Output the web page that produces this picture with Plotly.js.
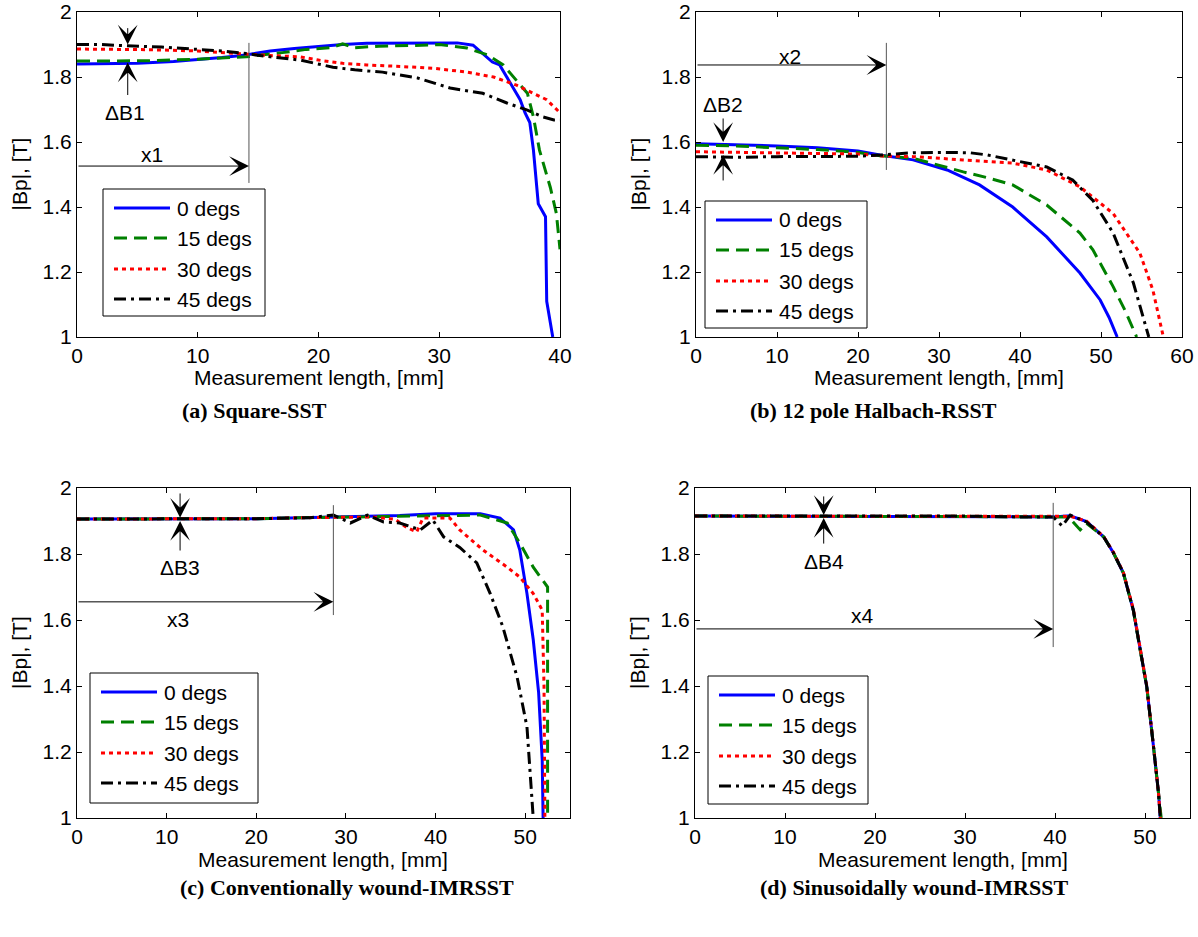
<!DOCTYPE html>
<html>
<head>
<meta charset="utf-8">
<script src="https://cdn.plot.ly/plotly-3.0.1.min.js"></script>
<style>html,body{margin:0;padding:0;background:#fff;}#chart{width:1198px;height:937px;}</style>
</head>
<body>
<div id="chart"></div>
<script>
// ---------- DATA ----------
const seriesNames = ["0 degs", "15 degs", "30 degs", "45 degs"];
const panelTitles = ["(a) Square-SST", "(b) 12 pole Halbach-RSST", "(c) Conventionally wound-IMRSST", "(d) Sinusoidally wound-IMRSST"];
const xTitle = "Measurement length, [mm]";
const yTitle = "|Bp|, [T]";
const yTickVals = [1, 1.2, 1.4, 1.6, 1.8, 2];

// (a) Square-SST
const a0x = [0, 3, 5, 8, 10, 12, 14, 16, 18, 20, 22, 24, 26, 28, 30, 31.5, 32.8, 33.9, 34.4, 35.0, 35.9, 36.7, 37.1, 37.5, 37.8, 38.2, 38.8, 38.9, 39.4];
const a0y = [1.840, 1.840, 1.842, 1.848, 1.853, 1.860, 1.868, 1.880, 1.888, 1.895, 1.900, 1.904, 1.904, 1.905, 1.905, 1.905, 1.898, 1.862, 1.846, 1.837, 1.780, 1.730, 1.690, 1.660, 1.575, 1.410, 1.370, 1.110, 1.000];
const a15x = [0, 3, 6, 10, 14, 17, 19, 21, 22, 23, 25, 28, 30, 32.3, 34, 35.3, 36.4, 37.3, 37.8, 38.3, 39.2, 39.7, 40];
const a15y = [1.849, 1.849, 1.850, 1.855, 1.862, 1.875, 1.885, 1.890, 1.902, 1.890, 1.895, 1.897, 1.900, 1.889, 1.868, 1.837, 1.790, 1.750, 1.677, 1.575, 1.460, 1.380, 1.270];
const a30x = [0, 3, 6, 10, 14, 16, 18.5, 20, 22, 24, 27, 29.5, 32.3, 34.5, 36.4, 37.8, 38.9, 40];
const a30y = [1.886, 1.885, 1.884, 1.880, 1.870, 1.866, 1.862, 1.852, 1.842, 1.837, 1.832, 1.827, 1.815, 1.800, 1.775, 1.750, 1.730, 1.690];
const a45x = [0, 2, 4, 7, 10, 12, 14, 16, 18.5, 21.2, 23, 25.3, 28.2, 30.9, 33.6, 35.6, 37.3, 38.6, 39.5, 40];
const a45y = [1.900, 1.900, 1.896, 1.892, 1.885, 1.880, 1.872, 1.862, 1.852, 1.830, 1.822, 1.815, 1.797, 1.766, 1.750, 1.720, 1.698, 1.677, 1.668, 1.668];

// (b) 12 pole Halbach-RSST
const b0x = [0, 5, 10, 15, 20, 22.7, 26.8, 31, 35, 39.1, 43.3, 47.4, 49.9, 51, 52];
const b0y = [1.595, 1.592, 1.588, 1.582, 1.572, 1.560, 1.545, 1.514, 1.468, 1.400, 1.308, 1.197, 1.114, 1.060, 1.000];
const b15x = [0, 5, 10, 15, 20, 22.7, 26.8, 31, 33, 36, 39.1, 43.3, 47.4, 49, 51.5, 53, 54.4];
const b15y = [1.590, 1.588, 1.582, 1.577, 1.568, 1.558, 1.550, 1.520, 1.508, 1.490, 1.468, 1.406, 1.320, 1.268, 1.155, 1.080, 1.000];
const b30x = [0, 5, 10, 15, 20, 23, 26.8, 33, 39.1, 43.3, 47.4, 51.5, 54.8, 56.4, 57.7];
const b30y = [1.570, 1.568, 1.567, 1.565, 1.563, 1.557, 1.555, 1.545, 1.535, 1.514, 1.462, 1.380, 1.258, 1.145, 1.000];
const b45x = [0, 5, 10, 15, 20, 23, 26.8, 30, 33.8, 36, 39.1, 43.3, 46.5, 49, 51.5, 54, 55.9];
const b45y = [1.555, 1.553, 1.555, 1.556, 1.556, 1.560, 1.567, 1.568, 1.567, 1.560, 1.545, 1.523, 1.483, 1.420, 1.320, 1.166, 1.000];

// (c) Conventionally wound-IMRSST
const c0x = [0, 10, 20, 25, 30, 32, 36, 40, 45, 47.2, 48.7, 49.4, 50.2, 50.9, 51.5, 51.9, 52];
const c0y = [1.906, 1.906, 1.907, 1.910, 1.913, 1.916, 1.917, 1.922, 1.922, 1.909, 1.873, 1.812, 1.680, 1.540, 1.380, 1.176, 1.000];
const c15x = [0, 10, 20, 25, 30, 35, 40, 45, 48, 49.4, 50.9, 52.5, 52.5];
const c15y = [1.906, 1.906, 1.907, 1.910, 1.912, 1.915, 1.918, 1.918, 1.894, 1.833, 1.760, 1.700, 1.000];
const c30x = [0, 10, 20, 25, 30, 33, 35.5, 36.8, 37.9, 38.6, 41.6, 42.7, 45.3, 48, 49.4, 50.9, 51.9, 52.1, 52.2];
const c30y = [1.906, 1.906, 1.907, 1.910, 1.912, 1.912, 1.905, 1.880, 1.867, 1.909, 1.909, 1.873, 1.812, 1.760, 1.730, 1.680, 1.630, 1.400, 1.000];
const c45x = [0, 10, 20, 26, 28.6, 30.5, 32.4, 34.2, 36, 38.3, 39.7, 40.9, 42.7, 44.6, 46.1, 47.5, 49.1, 50.2, 50.9];
const c45y = [1.906, 1.906, 1.907, 1.910, 1.918, 1.894, 1.918, 1.897, 1.894, 1.873, 1.903, 1.852, 1.820, 1.773, 1.680, 1.580, 1.427, 1.276, 1.000];

// (d) Sinusoidally wound-IMRSST
const d0x = [0, 10, 20, 30, 36.5, 39.8, 41.7, 43.5, 45.4, 46.5, 47.6, 48.7, 49.4, 50.2, 50.9, 51.5, 51.7];
const d0y = [1.915, 1.915, 1.915, 1.915, 1.913, 1.912, 1.916, 1.898, 1.852, 1.803, 1.742, 1.630, 1.518, 1.397, 1.227, 1.076, 1.000];
const d15x = [0, 10, 20, 30, 36.5, 39.8, 41.5, 42.8, 43.5, 45.4, 46.5, 47.6, 48.7, 49.4, 50.2, 50.9, 51.5, 51.8];
const d15y = [1.915, 1.915, 1.915, 1.915, 1.913, 1.912, 1.912, 1.873, 1.893, 1.852, 1.803, 1.742, 1.630, 1.518, 1.397, 1.227, 1.076, 1.000];
const d30x = [0, 10, 20, 30, 36.5, 39.8, 41.7, 43.5, 45.4, 46.5, 47.6, 48.7, 49.4, 50.2, 50.9, 51.5, 51.7];
const d30y = [1.915, 1.915, 1.915, 1.915, 1.913, 1.913, 1.914, 1.900, 1.853, 1.805, 1.744, 1.634, 1.520, 1.400, 1.228, 1.077, 1.000];
const d45x = [0, 10, 20, 30, 36.5, 39.8, 40.8, 41.7, 43.5, 45.4, 46.5, 47.6, 48.7, 49.4, 50.2, 50.9, 51.5, 51.7];
const d45y = [1.915, 1.915, 1.915, 1.915, 1.912, 1.912, 1.885, 1.918, 1.897, 1.852, 1.803, 1.742, 1.630, 1.518, 1.397, 1.227, 1.076, 1.000];

// ---------- STYLE / LAYOUT ----------
const W = 1198, H = 937;
const PX = v => v / W, PY = v => 1 - v / H;
const styles = [
  {color: "#0000ff", width: 3, dash: "solid"},
  {color: "#008000", width: 3, dash: "13px,7px"},
  {color: "#ff0000", width: 3, dash: "4px,4px"},
  {color: "#000000", width: 3, dash: "12px,5px,3px,5px"}
];
const panelData = [
  [[a0x, a0y], [a15x, a15y], [a30x, a30y], [a45x, a45y]],
  [[b0x, b0y], [b15x, b15y], [b30x, b30y], [b45x, b45y]],
  [[c0x, c0y], [c15x, c15y], [c30x, c30y], [c45x, c45y]],
  [[d0x, d0y], [d15x, d15y], [d30x, d30y], [d45x, d45y]]
];
const panels = [
  {xd: [77, 560], yd: [12, 337], xr: [0, 40], legend: [103, 189, 162, 127], cap: [180, 410]},
  {xd: [696, 1182], yd: [12, 337], xr: [0, 60], legend: [705, 201, 162, 127], cap: [748, 410]},
  {xd: [77, 570], yd: [488, 818], xr: [0, 55], legend: [90, 673, 168, 130], cap: [178, 887]},
  {xd: [695, 1190], yd: [488, 818], xr: [0, 55], legend: [708, 676, 160, 128], cap: [758, 887]}
];
const FONT = "Liberation Sans, Arial, Helvetica, sans-serif";
const FS = 21;

const traces = [];
const layout = {
  width: W, height: H, autosize: false,
  margin: {l: 0, r: 0, t: 0, b: 0},
  paper_bgcolor: "#fff", plot_bgcolor: "#fff",
  showlegend: false,
  font: {family: FONT, size: FS, color: "#000"},
  shapes: [], annotations: []
};

panels.forEach((p, i) => {
  const n = i === 0 ? "" : String(i + 1);
  const xa = "x" + n, ya = "y" + n;
  panelData[i].forEach((s, k) => {
    traces.push({
      type: "scatter", mode: "lines", x: s[0], y: s[1], name: seriesNames[k],
      xaxis: xa, yaxis: ya, line: Object.assign({}, styles[k]), hoverinfo: "skip"
    });
  });
  const axCommon = {
    showline: true, linecolor: "#000", linewidth: 1, mirror: "ticks",
    ticks: "inside", ticklen: 5, tickwidth: 1, tickcolor: "#000",
    showgrid: false, zeroline: false,
    tickfont: {family: FONT, size: FS, color: "#000"}
  };
  layout["xaxis" + n] = Object.assign({}, axCommon, {
    domain: [PX(p.xd[0]), PX(p.xd[1])], range: p.xr, anchor: ya,
    tickmode: "linear", tick0: 0, dtick: 10
  });
  layout["yaxis" + n] = Object.assign({}, axCommon, {
    domain: [PY(p.yd[1]), PY(p.yd[0])], range: [1, 2], anchor: xa,
    tickmode: "array", tickvals: yTickVals, ticktext: yTickVals.map(v => String(v))
  });
  // axis titles
  layout.annotations.push({
    xref: "paper", yref: "paper", x: PX((p.xd[0] + p.xd[1]) / 2), y: PY(p.yd[1] + 41),
    text: xTitle, showarrow: false, xanchor: "center", yanchor: "middle",
    font: {family: FONT, size: FS, color: "#000"}
  });
  layout.annotations.push({
    xref: "paper", yref: "paper", x: PX(p.xd[0] - 58), y: PY((p.yd[0] + p.yd[1]) / 2),
    text: yTitle, showarrow: false, textangle: -90, xanchor: "center", yanchor: "middle",
    font: {family: FONT, size: FS, color: "#000"}
  });
  // caption
  layout.annotations.push({
    xref: "paper", yref: "paper", x: PX(p.cap[0]), y: PY(p.cap[1]),
    text: "<b>" + panelTitles[i] + "</b>", showarrow: false, xanchor: "left", yanchor: "middle",
    font: {family: "Liberation Serif, Times New Roman, serif", size: 22, color: "#000"}
  });
  // legend
  const [lx, ly, lw, lh] = p.legend;
  layout.shapes.push({type: "rect", xref: "paper", yref: "paper",
    x0: PX(lx), x1: PX(lx + lw), y0: PY(ly + lh), y1: PY(ly),
    line: {color: "#000", width: 1}, fillcolor: "#fff", layer: "above"});
  const rows = [19, 49, 80, 110];
  seriesNames.forEach((nm, k) => {
    const yy = PY(ly + rows[k]);
    layout.shapes.push({type: "line", xref: "paper", yref: "paper",
      x0: PX(lx + 11), x1: PX(lx + 67), y0: yy, y1: yy,
      line: {color: styles[k].color, width: styles[k].width, dash: styles[k].dash}, layer: "above"});
    layout.annotations.push({xref: "paper", yref: "paper", x: PX(lx + 72), y: yy,
      text: nm, showarrow: false, xanchor: "left", yanchor: "middle",
      font: {family: FONT, size: FS, color: "#000"}});
  });
});

// markers of delta-B and x lengths (annotation arrows in data coordinates)
const marks = [
  {n: "", dB: "ΔB1", xL: "x1", bx: 4.2, top: [1.955, 1.90], bot: [1.74, 1.845], dbText: [4.0, 1.69],
   vx: 14.24, vy: [1.474, 1.905], hy: 1.526, xText: [6.2, 1.56]},
  {n: "2", dB: "ΔB2", xL: "x2", bx: 3.35, top: [1.677, 1.60], bot: [1.477, 1.56], dbText: [3.35, 1.714],
   vx: 23.5, vy: [1.514, 1.905], hy: 1.837, xText: [11.6, 1.862]},
  {n: "3", dB: "ΔB3", xL: "x3", bx: 11.5, top: [1.988, 1.91], bot: [1.806, 1.90], dbText: [11.5, 1.758],
   vx: 28.6, vy: [1.615, 1.948], hy: 1.655, xText: [11.3, 1.603]},
  {n: "4", dB: "ΔB4", xL: "x4", bx: 14.3, top: [1.979, 1.918], bot: [1.827, 1.909], dbText: [14.3, 1.776],
   vx: 39.8, vy: [1.518, 1.955], hy: 1.573, xText: [18.6, 1.615]}
];
marks.forEach(m => {
  const xr = "x" + m.n, yr = "y" + m.n;
  const arrow = (x, y, ax, ay) => ({
    xref: xr, yref: yr, axref: xr, ayref: yr, x: x, y: y, ax: ax, ay: ay, text: "",
    showarrow: true, arrowhead: 3, arrowsize: 3.3, arrowwidth: 1, arrowcolor: "#000", standoff: 0, startstandoff: 0
  });
  layout.annotations.push(arrow(m.bx, m.top[1], m.bx, m.top[0]));
  layout.annotations.push(arrow(m.bx, m.bot[1], m.bx, m.bot[0]));
  layout.annotations.push(arrow(m.vx, m.hy, 0, m.hy));
  layout.annotations.push({xref: xr, yref: yr, x: m.dbText[0], y: m.dbText[1], text: m.dB, showarrow: false,
    font: {family: FONT, size: FS, color: "#000"}});
  layout.annotations.push({xref: xr, yref: yr, x: m.xText[0], y: m.xText[1], text: m.xL, showarrow: false,
    font: {family: FONT, size: FS, color: "#000"}});
  layout.shapes.push({type: "line", xref: xr, yref: yr, x0: m.vx, x1: m.vx, y0: m.vy[0], y1: m.vy[1],
    line: {color: "#555", width: 1}});
});

Plotly.newPlot("chart", traces, layout, {staticPlot: true, displayModeBar: false});
</script>
</body>
</html>
